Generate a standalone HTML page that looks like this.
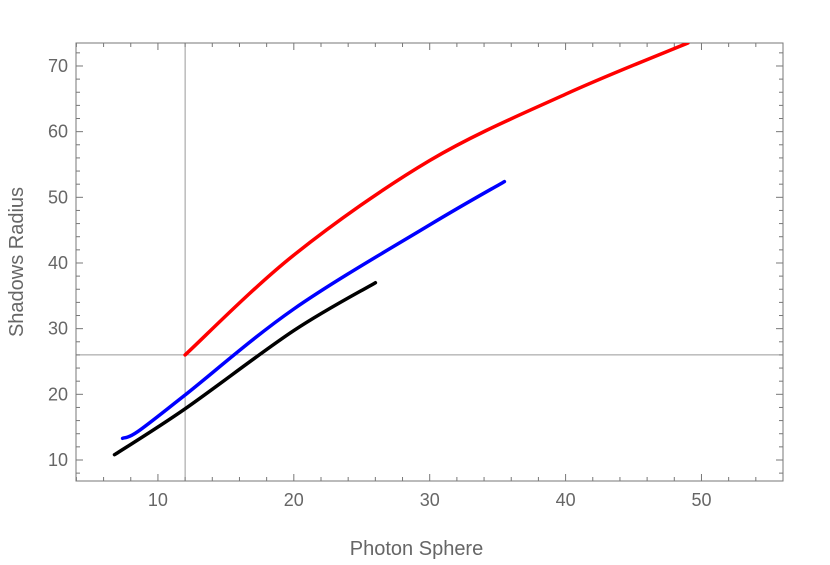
<!DOCTYPE html>
<html><head><meta charset="utf-8"><style>
body{margin:0;background:#fff;}
svg{display:block;font-family:"Liberation Sans",sans-serif;}
</style></head><body>
<svg id="chart" width="830" height="565"></svg>
<script>
const xTicks=[10,20,30,40,50];
const yTicks=[10,20,30,40,50,60,70];
const redX=[12,20,30,40,49];
const redY=[26,41.2,55.6,65.7,73.5];
const blueX=[7.4,8.5,12,20,30,35.5];
const blueY=[13.3,14.3,19.9,33,45.8,52.4];
const blackX=[6.8,12,20,26];
const blackY=[10.8,17.8,29.7,37];
const refX=12, refY=26;

const L=76,R=783,T=43,B=481,xMin=3.97,xMax=56,yMin=6.8,yMax=73.5;
const sx=v=>L+(v-xMin)/(xMax-xMin)*(R-L);
const sy=v=>B-(v-yMin)/(yMax-yMin)*(B-T);
const svg=document.getElementById('chart');
const NS='http://www.w3.org/2000/svg';
function mk(tag,attrs,parent){const e=document.createElementNS(NS,tag);for(const k in attrs)e.setAttribute(k,attrs[k]);(parent||svg).appendChild(e);return e;}

const defs=mk('defs',{});
const cp=mk('clipPath',{id:'clip'},defs);
mk('rect',{x:L,y:T,width:R-L,height:B-T},cp);

let v=mk('line',{x1:sx(refX),x2:sx(refX),y1:T,y2:B,stroke:'#999','stroke-width':1});


let h=mk('line',{x1:L,x2:R,y1:sy(refY),y2:sy(refY),stroke:'#999','stroke-width':1});



let fr=mk('rect',{x:L,y:T,width:R-L,height:B-T,fill:'none',stroke:'#777','stroke-width':1});



for(let t=4;t<=56;t+=2){
  const major=t%10===0, len=major?7:4;
  mk('line',{x1:sx(t),x2:sx(t),y1:B,y2:B-len,stroke:'#777'});
  mk('line',{x1:sx(t),x2:sx(t),y1:T,y2:T+len,stroke:'#777'});
}
for(let t=8;t<=72;t+=2){
  const major=t%10===0, len=major?7:4;
  mk('line',{x1:L,x2:L+len,y1:sy(t),y2:sy(t),stroke:'#777'});
  mk('line',{x1:R,x2:R-len,y1:sy(t),y2:sy(t),stroke:'#777'});
}
xTicks.forEach(t=>{const e=mk('text',{x:sx(t),y:B+25,'text-anchor':'middle','font-size':18,fill:'#666'});e.textContent=t;

});
yTicks.forEach(t=>{const e=mk('text',{x:L-8,y:sy(t)+6,'text-anchor':'end','font-size':18,fill:'#666'});e.textContent=t;

});

let xt=mk('text',{x:(L+R)/2-13,y:555,'text-anchor':'middle','font-size':20,fill:'#666'});xt.textContent='Photon Sphere';


let yt=mk('text',{x:0,y:0,'text-anchor':'middle','font-size':20,fill:'#666',transform:`translate(23,${(T+B)/2}) rotate(-90)`});yt.textContent='Shadows Radius';



function series(xs,ys,color,name){
  const P=xs.map((x,i)=>[sx(x),sy(ys[i])]);
  let d='M'+P[0][0].toFixed(1)+','+P[0][1].toFixed(1);
  for(let i=0;i<P.length-1;i++){
    const p0=P[Math.max(i-1,0)],p1=P[i],p2=P[i+1],p3=P[Math.min(i+2,P.length-1)];
    const c1=[p1[0]+(p2[0]-p0[0])/6,p1[1]+(p2[1]-p0[1])/6];
    const c2=[p2[0]-(p3[0]-p1[0])/6,p2[1]-(p3[1]-p1[1])/6];
    d+=` C${c1[0].toFixed(1)},${c1[1].toFixed(1)} ${c2[0].toFixed(1)},${c2[1].toFixed(1)} ${p2[0].toFixed(1)},${p2[1].toFixed(1)}`;
  }
  const p=mk('path',{d:d,fill:'none',stroke:color,'stroke-width':3.5,'stroke-linejoin':'round','stroke-linecap':'round','clip-path':'url(#clip)'});
  
  
}
series(blackX,blackY,'#000','black-series-line');
series(blueX,blueY,'#0000ff','blue-series-line');
series(redX,redY,'#ff0000','red-series-line');
</script>
</body></html>
